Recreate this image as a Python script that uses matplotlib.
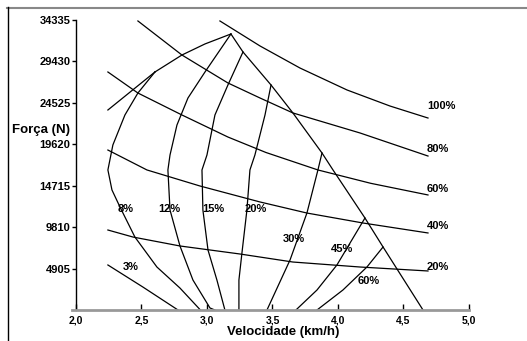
import matplotlib
matplotlib.use('Agg')
import matplotlib.pyplot as plt
from matplotlib.lines import Line2D

plt.rcParams['font.family'] = ['Liberation Sans', 'DejaVu Sans']
plt.rcParams['font.weight'] = 'bold'

# eixos
x_ticks = [2.0, 2.5, 3.0, 3.5, 4.0, 4.5, 5.0]
x_tick_labels = ['2,0', '2,5', '3,0', '3,5', '4,0', '4,5', '5,0']
y_ticks = [4905, 9810, 14715, 19620, 24525, 29430, 34335]

# envoltoria (lado esquerdo superior, ramo esquerdo e lado direito)
env_top_x = [3.183, 2.985, 2.809, 2.603]
env_top_y = [32680, 31500, 30190, 28180]
env_stub_x = [2.603, 2.244]
env_stub_y = [28180, 23680]
env_right_x = [3.183, 3.275, 3.489, 3.656, 3.878, 3.962, 4.206, 4.344, 4.649]
env_right_y = [32680, 30550, 26640, 23330, 18590, 16580, 10890, 7460, 0]

# curvas de declividade (%)
slope_labels = ['3%', '8%', '12%', '15%', '20%', '30%', '45%', '60%']
s3_x = [2.244, 2.511, 2.779]
s3_y = [5330, 2720, 0]
s8_x = [2.603, 2.473, 2.374, 2.282, 2.244, 2.275, 2.336, 2.450, 2.618, 2.794, 2.950]
s8_y = [28180, 25690, 23090, 19540, 16580, 14210, 12200, 8640, 5090, 2600, 0]
s12_x = [3.183, 2.985, 2.855, 2.771, 2.718, 2.702, 2.718, 2.794, 2.893, 3.023, 3.060]
s12_y = [32680, 28180, 25100, 21900, 18350, 16580, 11840, 7580, 3550, 240, 0]
s15_x = [3.275, 3.160, 3.061, 3.000, 2.962, 2.969, 3.008, 3.076, 3.137]
s15_y = [30550, 26640, 23090, 18350, 16580, 11840, 7100, 3550, 0]
s20_x = [3.489, 3.443, 3.366, 3.328, 3.305, 3.267, 3.244, 3.244]
s20_y = [26640, 23090, 18350, 16580, 11840, 6750, 3550, 0]
s30_x = [3.878, 3.847, 3.763, 3.634, 3.458]
s30_y = [18590, 16580, 11480, 5920, 0]
s45_x = [4.206, 4.092, 3.992, 3.840, 3.679]
s45_y = [10890, 7930, 5330, 2370, 0]
s60_x = [4.344, 4.221, 4.038, 3.840]
s60_y = [7460, 5090, 2370, 0]

# curvas de carga (%)
load_labels = ['100%', '80%', '60%', '40%', '20%']
c100_x = [3.099, 3.405, 3.710, 4.069, 4.397, 4.687]
c100_y = [34220, 31260, 28650, 26050, 24150, 22730]
c80_x = [2.473, 2.809, 3.160, 3.405, 3.656, 4.168, 4.687]
c80_y = [34220, 30190, 26880, 25100, 23330, 20960, 18230]
c60_x = [2.244, 2.473, 2.809, 3.160, 3.450, 3.847, 4.250, 4.687]
c60_y = [28180, 25690, 23090, 20480, 18650, 16580, 15000, 13620]
c40_x = [2.244, 2.542, 2.947, 3.405, 3.763, 4.191, 4.687]
c40_y = [18940, 16580, 14680, 12790, 11480, 10300, 9120]
c20_x = [2.244, 2.435, 2.794, 3.252, 3.656, 4.168, 4.687]
c20_y = [9470, 8640, 7580, 6630, 5680, 5090, 4620]

# posicoes dos rotulos
slope_lab_x = [2.359, 2.321, 2.626, 2.962, 3.290, 3.580, 3.947, 4.153]
slope_lab_y = [5090, 11960, 11960, 11960, 11960, 8410, 7220, 3430]
load_lab_x = [4.679, 4.679, 4.679, 4.679, 4.679]
load_lab_y = [24150, 19060, 14330, 9950, 5090]

fig = plt.figure(figsize=(5.27, 3.41), dpi=100)
ax = fig.add_axes([72 / 527, 31 / 341, 397 / 527, 290 / 341])

lw = 0.9
curves = [
    (env_top_x, env_top_y), (env_stub_x, env_stub_y), (env_right_x, env_right_y),
    (s3_x, s3_y), (s8_x, s8_y), (s12_x, s12_y), (s15_x, s15_y), (s20_x, s20_y),
    (s30_x, s30_y), (s45_x, s45_y), (s60_x, s60_y),
    (c100_x, c100_y), (c80_x, c80_y), (c60_x, c60_y), (c40_x, c40_y), (c20_x, c20_y),
]
for cx, cy in curves:
    ax.plot(cx, cy, color='black', lw=lw, clip_on=False)

for lab, tx, ty in zip(slope_labels, slope_lab_x, slope_lab_y):
    ax.text(tx, ty, lab, fontsize=8, fontweight='bold', ha='left', va='center')
for lab, tx, ty in zip(load_labels, load_lab_x, load_lab_y):
    ax.text(tx, ty, lab, fontsize=8, fontweight='bold', ha='left', va='center')

ax.set_xlim(1.97, 5.0)
ax.set_ylim(0, 34335)
ax.spines['top'].set_visible(False)
ax.spines['right'].set_visible(False)
ax.spines['left'].set_position(('data', 2.0))
ax.spines['left'].set_linewidth(1.0)
ax.spines['bottom'].set_color('#999999')
ax.spines['bottom'].set_linewidth(2.0)

ax.set_xticks(x_ticks)
ax.set_xticklabels(x_tick_labels, fontsize=7.5, fontweight='bold')
ax.set_yticks(y_ticks)
ax.set_yticklabels([str(v) for v in y_ticks], fontsize=8, fontweight='bold')
ax.tick_params(axis='x', direction='in', length=4, width=1, color='black', pad=4)
ax.tick_params(axis='y', direction='out', length=3, width=1, pad=1)

fig.text(283 / 527, 1 - 332 / 341, 'Velocidade (km/h)', fontsize=9.5,
         fontweight='bold', ha='center', va='center')
fig.text(12 / 527, 1 - 130 / 341, 'Força (N)', fontsize=9.5, fontweight='bold',
         ha='left', va='center')

# moldura
fig.add_artist(Line2D([7 / 527, 1], [1 - 7.5 / 341, 1 - 7.5 / 341],
                      color='#888888', lw=1.5, transform=fig.transFigure))
fig.add_artist(Line2D([7.5 / 527, 7.5 / 527], [0, 1 - 7 / 341],
                      color='black', lw=1.0, transform=fig.transFigure))

fig.savefig('out.png', dpi=100)
